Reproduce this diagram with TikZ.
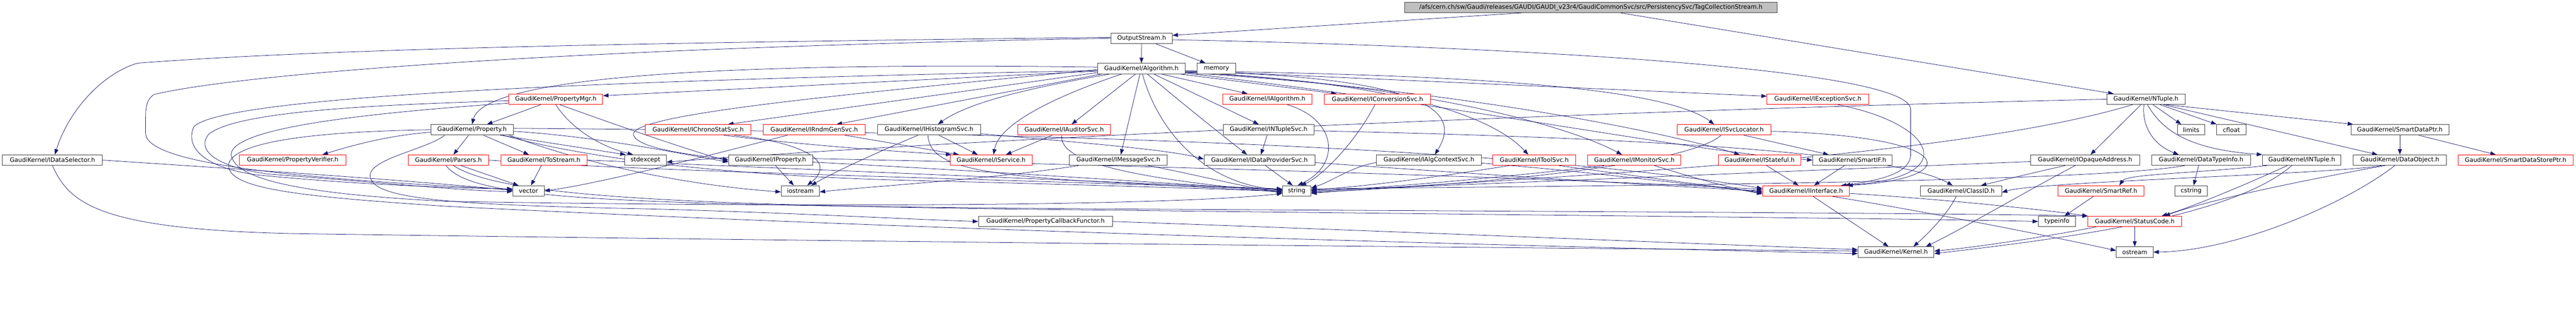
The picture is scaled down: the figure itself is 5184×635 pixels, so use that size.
\documentclass[tikz,border=0pt]{standalone}
\usepackage{fontspec}
\newfontfamily\gf{DejaVu Sans}
\usetikzlibrary{arrows.meta,backgrounds}
\definecolor{ec}{RGB}{25,25,112}
\definecolor{rootfill}{RGB}{191,191,191}
\definecolor{bord}{RGB}{64,64,64}
\begin{document}
\begin{tikzpicture}[x=1pt,y=-1pt,
 nb/.style={draw=bord, line width=1pt, fill=white, minimum height=21pt, inner sep=0pt, font={\gf\fontsize{12.2pt}{14pt}\selectfont}},
 nr/.style={nb, draw=red},
 e/.style={draw=ec, line width=0.8pt, -{Triangle[length=11pt,width=8pt]}}]
\useasboundingbox (0,0) rectangle (5184,635);
% row 0-3
\node[nb, fill=rootfill, minimum width=749pt] (root) at (3201.5,15) {/afs/cern.ch/sw/Gaudi/releases/GAUDI/GAUDI\_v23r4/GaudiCommonSvc/src/PersistencySvc/TagCollectionStream.h};
\node[nb, minimum width=123pt] (os) at (2297.5,77) {OutputStream.h};
\node[nb, minimum width=176pt] (alg) at (2297,138) {GaudiKernel/Algorithm.h};
\node[nb, minimum width=78pt] (mem) at (2448,138) {memory};
\node[nr, minimum width=189pt] (pmgr) at (1118.5,199.5) {GaudiKernel/PropertyMgr.h};
\node[nr, minimum width=179pt] (ialg) at (2550.5,199.5) {GaudiKernel/IAlgorithm.h};
\node[nr, minimum width=214pt] (iconv) at (2772,199.5) {GaudiKernel/IConversionSvc.h};
\node[nr, minimum width=205pt] (iexc) at (3658.5,199.5) {GaudiKernel/IExceptionSvc.h};
\node[nb, minimum width=157pt] (ntup) at (4318.5,199.5) {GaudiKernel/NTuple.h};
% row 4
\node[nb, minimum width=166pt] (prop) at (950,261) {GaudiKernel/Property.h};
\node[nr, minimum width=212pt] (ichr) at (1405,261) {GaudiKernel/IChronoStatSvc.h};
\node[nr, minimum width=205pt] (irnd) at (1638.5,261) {GaudiKernel/IRndmGenSvc.h};
\node[nb, minimum width=207pt] (ihis) at (1869.5,261) {GaudiKernel/IHistogramSvc.h};
\node[nr, minimum width=187pt] (iaud) at (2141.5,261) {GaudiKernel/IAuditorSvc.h};
\node[nb, minimum width=182pt] (intsvc) at (2553,261) {GaudiKernel/INTupleSvc.h};
\node[nr, minimum width=189pt] (isvc) at (3469.5,261) {GaudiKernel/ISvcLocator.h};
\node[nb, minimum width=55pt] (lim) at (4409.5,261) {limits};
\node[nb, minimum width=59pt] (cfl) at (4490.5,261) {cfloat};
\node[nb, minimum width=197pt] (sdp) at (4829.5,261) {GaudiKernel/SmartDataPtr.h};
% row 5
\node[nb, minimum width=201pt] (ids) at (105.5,322) {GaudiKernel/IDataSelector.h};
\node[nr, minimum width=214pt] (pver) at (589,322) {GaudiKernel/PropertyVerifier.h};
\node[nr, minimum width=161pt] (pars) at (902.5,322) {GaudiKernel/Parsers.h};
\node[nr, minimum width=173pt] (tost) at (1094.5,322) {GaudiKernel/ToStream.h};
\node[nb, minimum width=84pt] (stdx) at (1299,322) {stdexcept};
\node[nb, minimum width=169pt] (iprop) at (1550.5,322) {GaudiKernel/IProperty.h};
\node[nr, minimum width=165pt] (iser) at (1994.5,322) {GaudiKernel/IService.h};
\node[nb, minimum width=197pt] (imsg) at (2250.5,322) {GaudiKernel/IMessageSvc.h};
\node[nb, minimum width=223pt] (idp) at (2534.5,322) {GaudiKernel/IDataProviderSvc.h};
\node[nb, minimum width=211pt] (iacs) at (2875.5,322) {GaudiKernel/IAlgContextSvc.h};
\node[nr, minimum width=167pt] (itool) at (3087.5,322) {GaudiKernel/IToolSvc.h};
\node[nr, minimum width=188pt] (imon) at (3289,322) {GaudiKernel/IMonitorSvc.h};
\node[nr, minimum width=166pt] (ista) at (3541,322) {GaudiKernel/IStateful.h};
\node[nb, minimum width=160pt] (sif) at (3728,322) {GaudiKernel/SmartIF.h};
\node[nb, minimum width=220pt] (ioa) at (4196,322) {GaudiKernel/IOpaqueAddress.h};
\node[nb, minimum width=199pt] (dti) at (4429.5,322) {GaudiKernel/DataTypeInfo.h};
\node[nb, minimum width=158pt] (intup) at (4632,322) {GaudiKernel/INTuple.h};
\node[nb, minimum width=187pt] (dobj) at (4829.5,322) {GaudiKernel/DataObject.h};
\node[nr, minimum width=231pt] (sdsp) at (5062.5,322) {GaudiKernel/SmartDataStorePtr.h};
% row 6
\node[nb, minimum width=63pt] (vec) at (1063.5,384) {vector};
\node[nb, minimum width=77pt] (ios) at (1610.5,384) {iostream};
\node[nb, minimum width=57pt] (str) at (2609.5,384) {string};
\node[nr, minimum width=175pt] (iint) at (3634.5,384) {GaudiKernel/IInterface.h};
\node[nb, minimum width=163pt] (cid) at (3946.5,384) {GaudiKernel/ClassID.h};
\node[nr, minimum width=174pt] (sref) at (4228,384) {GaudiKernel/SmartRef.h};
\node[nb, minimum width=65pt] (cstr) at (4409.5,384) {cstring};
% row 7-8
\node[nb, minimum width=270pt] (pcf) at (2104,445.5) {GaudiKernel/PropertyCallbackFunctor.h};
\node[nb, minimum width=75pt] (tinfo) at (4139.5,445.5) {typeinfo};
\node[nr, minimum width=188pt] (sc) at (4296,445.5) {GaudiKernel/StatusCode.h};
\node[nb, minimum width=153pt] (kern) at (3815.5,507) {GaudiKernel/Kernel.h};
\node[nb, minimum width=74pt] (ostr) at (4296,507) {ostream};

\begin{pgfonlayer}{background}
\fill[white] (0,0) rectangle (5184,635);
% root
\draw[e] ([xshift=-140pt]root.south) -- ([yshift=6pt]os.east);
\draw[e] ([xshift=60pt]root.south) -- ([xshift=-65pt]ntup.north);
% OutputStream
\draw[e] (os.south) -- (alg.north);
\draw[e] ([xshift=28pt]os.south) -- ([xshift=-22pt]mem.north);
\draw[e] ([yshift=2pt]os.west) .. controls (1400,85) and (700,95) .. (277,127) .. controls (200,150) and (135,230) .. ([xshift=5pt]ids.north);
\draw[e] (os.west) .. controls (1200,95) and (500,145) .. (310,190) .. controls (295,200) and (293,215) .. (293,240) -- (293,268) .. controls (293,330) and (600,360) .. ([yshift=3pt]vec.west);
\draw[e] ([yshift=-3pt]os.east) .. controls (2900,90) and (3845,130) .. (3845,220) -- (3845,310) .. controls (3845,350) and (3780,362) .. ([xshift=-10pt]iint.north east);
% IDataSelector
\draw[e] (ids.east) .. controls (400,335) and (800,360) .. ([yshift=1pt]vec.west);
\draw[e] (ids.south) .. controls (140,410) and (200,462) .. (600,470) .. controls (2000,490) and (3300,500) .. ([yshift=2pt]kern.west);
% Algorithm
\draw[e] ([yshift=-5pt]alg.west) -- ([yshift=7pt]pmgr.east);
\draw[e] ([yshift=3pt]alg.west) .. controls (1500,125) and (975,150) .. (prop.north);
\draw[e] ([yshift=-2pt]alg.west) .. controls (1700,190) and (1260,230) .. (1275,272) .. controls (1285,300) and (1400,312) .. ([yshift=1pt]iprop.west);
\draw[e] ([xshift=40pt]alg.south) -- ([xshift=-40pt]ialg.north);
\draw[e] ([xshift=78pt]alg.south) -- ([xshift=-82pt]iconv.north);
\draw[e] ([yshift=-4pt]alg.east) -- ([yshift=6pt]iexc.west);
\draw[e] ([yshift=-8pt]alg.west) -- ([xshift=60pt]ichr.north);
\draw[e] ([xshift=8pt]alg.south west) -- ([xshift=45pt]irnd.north);
\draw[e] ([xshift=25pt]alg.south west) .. controls (2080,175) and (1950,205) .. ([xshift=18pt]ihis.north);
\draw[e] ([xshift=-12pt]alg.south) -- ([xshift=15pt]iaud.north);
\draw[e] ([xshift=-40pt]alg.south) .. controls (2120,195) and (2010,250) .. ([xshift=5pt]iser.north);
\draw[e] ([xshift=-3pt]alg.south) -- ([xshift=5pt]imsg.north);
\draw[e] ([xshift=2pt]alg.south) .. controls (2330,260) and (2420,370) .. ([yshift=2pt]str.west);
\draw[e] ([xshift=12pt]alg.south) .. controls (2400,225) and (2470,280) .. ([xshift=-25pt]idp.north);
\draw[e] ([xshift=25pt]alg.south) -- ([xshift=-20pt]intsvc.north);
\draw[e] ([yshift=-6pt]alg.east) .. controls (2950,155) and (2925,250) .. ([xshift=12pt]iacs.north);
\draw[e] ([yshift=-7pt]alg.east) .. controls (2800,165) and (3000,230) .. ([xshift=-12pt]itool.north);
\draw[e] ([yshift=-7pt]alg.east) .. controls (2850,170) and (3150,250) .. ([xshift=-25pt]imon.north);
\draw[e] ([yshift=-5pt]alg.east) .. controls (2950,150) and (3350,175) .. ([xshift=-20pt]isvc.north);
\draw[e] ([yshift=-8pt]alg.east) .. controls (3000,185) and (3400,280) .. ([xshift=-40pt]ista.north);
\draw[e] ([yshift=-9pt]alg.east) .. controls (3000,220) and (3400,305) .. (sif.west);
\draw[e] ([yshift=-4pt]alg.west) .. controls (1300,160) and (450,190) .. (390,255) .. controls (370,300) and (420,340) .. (520,352) .. controls (700,370) and (900,378) .. ([yshift=4pt]vec.west);
% PropertyMgr
\draw[e] ([xshift=-30pt]pmgr.south) -- ([xshift=30pt]prop.north);
\draw[e] (pmgr.south) .. controls (1150,260) and (1210,295) .. ([xshift=-25pt]stdx.north);
\draw[e] ([xshift=8pt]pmgr.south) .. controls (1250,255) and (1380,300) .. ([yshift=-2pt]iprop.west);
\draw[e] ([yshift=-3pt]pmgr.west) .. controls (800,210) and (480,220) .. (420,270) .. controls (395,300) and (430,335) .. (540,350) .. controls (800,370) and (950,385) .. ([yshift=-1pt]vec.west);
\draw[e] ([yshift=-8pt]pmgr.west) .. controls (700,230) and (470,260) .. (465,310) .. controls (470,360) and (600,390) .. (900,405) .. controls (1800,420) and (2400,410) .. ([yshift=-5pt]str.west);
% Property
\draw[e] ([yshift=-5pt]prop.west) .. controls (780,272) and (700,295) .. ([xshift=60pt]pver.north);
\draw[e] ([xshift=-7pt]prop.south) -- ([xshift=10pt]pars.north);
\draw[e] ([xshift=23pt]prop.south) -- ([xshift=-30pt]tost.north);
\draw[e] ([xshift=57pt]prop.south) -- ([xshift=-40pt]stdx.north);
\draw[e] ([xshift=62pt]prop.south) .. controls (1150,310) and (1400,350) .. (1800,362) .. controls (2200,372) and (2450,380) .. ([yshift=-1pt]str.west);
\draw[e] ([xshift=75pt]prop.south) .. controls (1150,320) and (1350,370) .. ([yshift=-2pt]ios.west);
\draw[e] ([yshift=-3pt]prop.east) .. controls (1200,275) and (1350,305) .. ([yshift=-4pt]iprop.west);
\draw[e] ([yshift=3pt]prop.east) .. controls (2000,265) and (3000,290) .. ([yshift=5pt]iint.west);
\draw[e] ([xshift=-55pt]prop.south) .. controls (860,300) and (740,320) .. (745,355) .. controls (750,400) and (900,412) .. (1300,420) .. controls (1600,428) and (1800,440) .. (pcf.west);
\draw[e] (prop.west) .. controls (600,265) and (470,290) .. (460,330) .. controls (455,380) and (600,395) .. (900,415) .. controls (2000,470) and (3300,500) .. ([yshift=-3pt]kern.west);
% Parsers
\draw[e] ([xshift=25pt]pars.south) -- ([xshift=-20pt]vec.north);
\draw[e] ([xshift=10pt]pars.south) .. controls (1000,390) and (1300,410) .. (2000,420) .. controls (3000,432) and (3900,440) .. (tinfo.west);
\draw[e] ([xshift=-5pt]pars.south) .. controls (950,400) and (1200,412) .. (2200,420) .. controls (3000,425) and (3900,428) .. (sc.north west);
\draw[e] (pars.east) .. controls (1300,345) and (2000,360) .. ([yshift=3pt]str.west);
% ToStream
\draw[e] ([xshift=-5pt]tost.south) -- ([xshift=5pt]vec.north);
\draw[e] (tost.east) .. controls (1500,335) and (2200,365) .. ([yshift=4pt]str.west);
% IChronoStatSvc
\draw[e] ([xshift=52pt]ichr.south) .. controls (1600,290) and (1800,305) .. ([xshift=-80pt]iser.north);
\draw[e] ([xshift=73pt]ichr.south) .. controls (1600,285) and (1690,320) .. ([xshift=14pt]ios.north);
% IRndmGenSvc
\draw[e] ([xshift=62pt]irnd.south) -- ([xshift=-65pt]iser.north);
\draw[e] ([xshift=-54pt]irnd.south) .. controls (1400,320) and (1200,370) .. (vec.east);
% IHistogramSvc
\draw[e] ([xshift=20pt]ihis.south) -- ([xshift=-27pt]iser.north);
\draw[e] ([yshift=-8pt]ihis.east) .. controls (2150,285) and (2350,300) .. ([yshift=2pt]idp.west);
\draw[e] ([xshift=-22pt]ihis.south) .. controls (1780,300) and (1680,345) .. ([xshift=22pt]ios.north);
\draw[e] ([xshift=-2pt]ihis.south) .. controls (1870,330) and (1950,350) .. (2200,365) .. controls (2400,375) and (2500,382) .. (str.west);
% IAuditorSvc
\draw[e] ([xshift=-24pt]iaud.south) -- ([xshift=30pt]iser.north);
\draw[e] ([xshift=-5pt]iaud.south) .. controls (2130,330) and (2300,360) .. ([yshift=-3pt]str.west);
% INTupleSvc
\draw[e] ([xshift=-3pt]intsvc.south) -- ([xshift=3pt]idp.north);
\draw[e] ([yshift=-2pt]intsvc.east) .. controls (3200,275) and (3800,300) .. ([xshift=-17pt]cid.north);
% IMessageSvc
\draw[e] ([xshift=60pt]imsg.south) .. controls (2400,350) and (2500,375) .. ([yshift=-4pt]str.west);
\draw[e] ([xshift=-80pt]imsg.south) .. controls (2000,360) and (1750,375) .. ([yshift=-2pt]ios.east);
% IDataProviderSvc
\draw[e] ([xshift=12pt]idp.south) -- ([xshift=-8pt]str.north);
\draw[e] ([yshift=-5pt]idp.east) .. controls (2900,345) and (3300,372) .. (iint.west);
% IAlgContextSvc
\draw[e] ([yshift=-5pt]iacs.west) .. controls (2720,335) and (2680,365) .. ([yshift=6pt]str.east);
\draw[e] ([yshift=-6pt]iacs.east) .. controls (3200,345) and (3400,372) .. ([yshift=-2pt]iint.west);
% IToolSvc
\draw[e] ([xshift=-50pt]itool.south) .. controls (2900,355) and (2750,375) .. ([yshift=2pt]str.east);
\draw[e] ([xshift=50pt]itool.south) .. controls (3300,355) and (3450,375) .. ([yshift=-4pt]iint.west);
% IMonitorSvc
\draw[e] ([xshift=-60pt]imon.south) .. controls (3000,360) and (2750,380) .. ([yshift=-1pt]str.east);
\draw[e] ([xshift=40pt]imon.south) .. controls (3400,355) and (3480,378) .. ([yshift=-6pt]iint.west);
% IStateful, SmartIF
\draw[e] ([xshift=14pt]ista.south) -- ([xshift=-15pt]iint.north);
\draw[e] ([xshift=-16pt]sif.south) -- ([xshift=16pt]iint.north);
% ISvcLocator
\draw[e] ([xshift=40pt]isvc.south) -- ([xshift=-48pt]sif.north);
\draw[e] ([yshift=-3pt]isvc.east) .. controls (3950,275) and (3950,360) .. ([xshift=-5pt]iint.north east);
\draw[e] ([xshift=-6pt]isvc.south) .. controls (3400,330) and (3000,370) .. ([yshift=-3pt]str.east);
% IExceptionSvc, IConversionSvc, IAlgorithm
\draw[e] ([xshift=40pt]iexc.south) .. controls (3900,250) and (3950,360) .. ([xshift=-18pt]iint.north east);
\draw[e] ([xshift=-5pt]iconv.south) .. controls (2720,300) and (2650,360) .. ([xshift=8pt]str.north);
\draw[e] ([xshift=40pt]ialg.south) .. controls (2690,240) and (2700,330) .. ([xshift=2pt]str.north);
% NTuple
\draw[e] ([xshift=14pt]ntup.south) -- ([xshift=-20pt]lim.north);
\draw[e] ([xshift=28pt]ntup.south) -- ([xshift=-30pt]cfl.north);
\draw[e] ([xshift=-4pt]ntup.south) .. controls (4310,250) and (4330,290) .. ([xshift=-45pt]dti.north);
\draw[e] ([xshift=3pt]ntup.south) .. controls (4350,260) and (4400,300) .. (intup.north west);
\draw[e] ([xshift=40pt]ntup.south) -- ([xshift=5pt]sdp.north west);
\draw[e] ([xshift=35pt]ntup.south) -- ([xshift=-45pt]dobj.north);
\draw[e] ([xshift=-10pt]ntup.south) -- ([xshift=11pt]ioa.north);
\draw[e] ([xshift=-27pt]ntup.south) .. controls (3900,330) and (2900,365) .. ([yshift=-5pt]str.east);
\draw[e] (ntup.west) .. controls (3000,228) and (1800,290) .. ([yshift=-4pt]stdx.east);
% DataTypeInfo
\draw[e] ([xshift=-5pt]dti.south) -- ([xshift=5pt]cstr.north);
\draw[e] ([xshift=-33pt]dti.south) .. controls (4200,370) and (3000,375) .. ([yshift=4pt]str.east);
% INTuple
\draw[e] ([xshift=-29pt]intup.south) .. controls (4500,380) and (4400,420) .. ([xshift=54pt]sc.north);
\draw[e] ([xshift=-20pt]intup.south) .. controls (4500,430) and (4200,475) .. ([yshift=-3pt]kern.east);
\draw[e] ([xshift=-70pt]intup.south) .. controls (4400,350) and (4280,350) .. ([xshift=37pt]sref.north);
% SmartDataPtr
\draw[e] (sdp.south) -- (dobj.north);
\draw[e] ([xshift=38pt]sdp.south) -- ([xshift=-40pt]sdsp.north);
% DataObject
\draw[e] ([xshift=-37pt]dobj.south) .. controls (4700,350) and (4100,365) .. ([yshift=-3pt]cid.east);
\draw[e] ([xshift=-30pt]dobj.south) .. controls (4650,360) and (4450,400) .. ([xshift=60pt]sc.north);
\draw[e] ([xshift=-10pt]dobj.south) .. controls (4720,410) and (4500,505) .. (ostr.east);
% IOpaqueAddress
\draw[e] ([xshift=-40pt]ioa.south) .. controls (4080,350) and (4020,365) .. ([xshift=40pt]cid.north);
\draw[e] ([xshift=-20pt]ioa.south) .. controls (4050,400) and (3950,460) .. ([xshift=60pt]kern.north);
\draw[e] ([yshift=-3pt]ioa.west) .. controls (3700,340) and (3000,370) .. ([yshift=1pt]str.east);
% ClassID, SmartRef, StatusCode
\draw[e] ([xshift=-10pt]cid.south) .. controls (3920,430) and (3880,470) .. ([xshift=35pt]kern.north);
\draw[e] ([xshift=-15pt]sref.south) -- ([xshift=15pt]tinfo.north);
\draw[e] ([xshift=-78pt]sc.south) .. controls (4150,470) and (4000,495) .. ([yshift=2pt]kern.east);
\draw[e] (sc.south) -- (ostr.north);
% IInterface
\draw[e] ([xshift=14pt]iint.south) -- ([xshift=-15pt]kern.north);
\draw[e] ([yshift=-5pt]iint.east) .. controls (3900,400) and (4100,420) .. (sc.north west);
\draw[e] ([xshift=53pt]iint.south) .. controls (3900,430) and (4150,480) .. ([yshift=3pt]ostr.west);
% IProperty
\draw[e] ([xshift=10pt]iprop.south) -- ([xshift=-13pt]ios.north);
\draw[e] ([yshift=-4pt]iprop.east) .. controls (2000,345) and (2400,372) .. ([yshift=1pt]str.west);
\draw[e] ([yshift=3pt]iprop.east) .. controls (2200,330) and (3200,360) .. ([yshift=3pt]iint.west);
% PropertyCallbackFunctor
\draw[e] (pcf.east) .. controls (2800,465) and (3400,490) .. ([yshift=5pt]kern.west);
\end{pgfonlayer}
\end{tikzpicture}
\end{document}
